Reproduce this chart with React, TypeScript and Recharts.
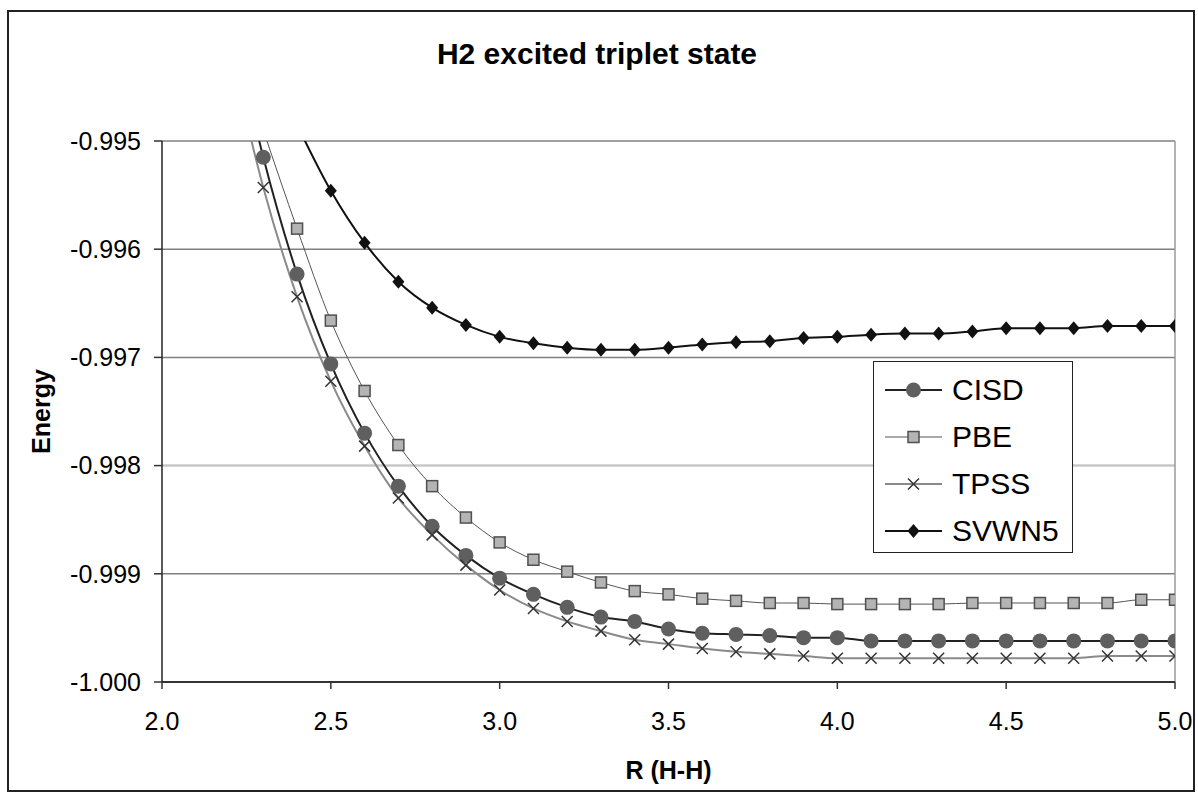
import React from 'react';
import { LineChart, Line, XAxis, YAxis, CartesianGrid, ReferenceLine, Legend } from 'recharts';

const FONT = '"Liberation Sans", Arial, sans-serif';

// R (H-H) sample points
const rValues = [
  2.2, 2.3, 2.4, 2.5, 2.6, 2.7, 2.8, 2.9, 3.0, 3.1, 3.2, 3.3, 3.4, 3.5, 3.6,
  3.7, 3.8, 3.9, 4.0, 4.1, 4.2, 4.3, 4.4, 4.5, 4.6, 4.7, 4.8, 4.9, 5.0,
];

const cisd = [
  -0.9938, -0.99515, -0.99623, -0.99706, -0.9977, -0.99819, -0.99856, -0.99883, -0.99904, -0.99919,
  -0.99931, -0.9994, -0.99944, -0.99951, -0.99955, -0.99956, -0.99957, -0.99959, -0.99959, -0.99962,
  -0.99962, -0.99962, -0.99962, -0.99962, -0.99962, -0.99962, -0.99962, -0.99962, -0.99962,
];

const pbe = [
  null, -0.9949, -0.99581, -0.99666, -0.99731, -0.99781, -0.99819, -0.99848, -0.99871, -0.99887,
  -0.99898, -0.99908, -0.99916, -0.99919, -0.99923, -0.99925, -0.99927, -0.99927, -0.99928, -0.99928,
  -0.99928, -0.99928, -0.99927, -0.99927, -0.99927, -0.99927, -0.99927, -0.99924, -0.99924,
];

const tpss = [
  -0.99413, -0.99543, -0.99644, -0.99722, -0.99782, -0.9983, -0.99864, -0.99892, -0.99915, -0.99932,
  -0.99944, -0.99953, -0.99961, -0.99965, -0.99969, -0.99972, -0.99974, -0.99976, -0.99978, -0.99978,
  -0.99978, -0.99978, -0.99978, -0.99978, -0.99978, -0.99978, -0.99976, -0.99976, -0.99976,
];

const svwn5 = [
  null, null, -0.99485, -0.99546, -0.99594, -0.9963, -0.99654, -0.9967, -0.99681, -0.99687,
  -0.99691, -0.99693, -0.99693, -0.99691, -0.99688, -0.99686, -0.99685, -0.99682, -0.99681, -0.99679,
  -0.99678, -0.99678, -0.99676, -0.99673, -0.99673, -0.99673, -0.99671, -0.99671, -0.99671,
];

const xTicks = [2, 2.5, 3, 3.5, 4, 4.5, 5];
const yTicks = [-1, -0.999, -0.998, -0.997, -0.996, -0.995];

const data = rValues.map((r, i) => ({
  r,
  cisd: cisd[i],
  pbe: pbe[i],
  tpss: tpss[i],
  svwn5: svwn5[i],
}));

const CircleDot = ({ cx, cy }: any) =>
  cx == null || cy == null ? null : <circle cx={cx} cy={cy} r={7.5} fill="#5f5f5f" />;

const SquareDot = ({ cx, cy }: any) =>
  cx == null || cy == null ? null : (
    <rect x={cx - 5.5} y={cy - 5.5} width={11} height={11} fill="#b4b4b4" stroke="#505050" strokeWidth={1.5} />
  );

const CrossDot = ({ cx, cy }: any) =>
  cx == null || cy == null ? null : (
    <path
      d={`M${cx - 5.5},${cy - 5.5}L${cx + 5.5},${cy + 5.5}M${cx + 5.5},${cy - 5.5}L${cx - 5.5},${cy + 5.5}`}
      stroke="#333"
      strokeWidth={1.5}
      fill="none"
    />
  );

const DiamondDot = ({ cx, cy }: any) =>
  cx == null || cy == null ? null : (
    <path d={`M${cx},${cy - 7}L${cx + 6},${cy}L${cx},${cy + 7}L${cx - 6},${cy}Z`} fill="#111" />
  );

const series = [
  { key: 'cisd', name: 'CISD', stroke: '#222', width: 2, Dot: CircleDot },
  { key: 'pbe', name: 'PBE', stroke: '#555', width: 1, Dot: SquareDot },
  { key: 'tpss', name: 'TPSS', stroke: '#8a8a8a', width: 2, Dot: CrossDot },
  { key: 'svwn5', name: 'SVWN5', stroke: '#111', width: 2, Dot: DiamondDot },
];

const renderLegend = () => (
  <div
    style={{
      width: 200,
      height: 192,
      boxSizing: 'border-box',
      border: '1px solid #222',
      background: '#fff',
      paddingTop: 4,
      paddingLeft: 11,
      fontFamily: FONT,
    }}
  >
    {series.map((s) => (
      <div key={s.key} style={{ height: 47, display: 'flex', alignItems: 'center' }}>
        <svg width={58} height={20} style={{ display: 'block' }}>
          <line x1={0} y1={10} x2={57} y2={10} stroke={s.stroke} strokeWidth={s.width} />
          <s.Dot cx={28.5} cy={10} />
        </svg>
        <span style={{ fontSize: 30, marginLeft: 9, color: '#000', lineHeight: '30px' }}>{s.name}</span>
      </div>
    ))}
  </div>
);

const EnergyLabel = ({ viewBox }: any) => {
  const x = viewBox.x + 18;
  const y = viewBox.y + viewBox.height / 2;
  return (
    <text
      x={x}
      y={y}
      transform={`rotate(-90 ${x} ${y})`}
      textAnchor="middle"
      fontFamily={FONT}
      fontWeight="bold"
      fontSize={25}
      fill="#000"
    >
      Energy
    </text>
  );
};

const RLabel = ({ viewBox }: any) => (
  <text
    x={viewBox.x + viewBox.width / 2}
    y={viewBox.y + 97}
    textAnchor="middle"
    fontFamily={FONT}
    fontWeight="bold"
    fontSize={25}
    fill="#000"
  >
    R (H-H)
  </text>
);

export default function App() {
  return (
    <div style={{ position: 'absolute', left: 0, top: 0, width: 1198, height: 795, background: '#fff' }}>
      <div
        style={{
          position: 'absolute',
          left: 7,
          top: 10,
          width: 1188,
          height: 782,
          boxSizing: 'border-box',
          border: '2px solid #222',
        }}
      />
      <div
        style={{
          position: 'absolute',
          left: 0,
          top: 37,
          width: 1194,
          textAlign: 'center',
          fontFamily: FONT,
          fontWeight: 'bold',
          fontSize: 30,
          lineHeight: 'normal',
          color: '#000',
        }}
      >
        H2 excited triplet state
      </div>
      <div style={{ position: 'absolute', left: 0, top: 0 }}>
        <LineChart width={1198} height={795} data={data} margin={{ top: 141, right: 23, bottom: 0, left: 32 }}>
          <CartesianGrid vertical={false} stroke="#808080" strokeWidth={1.5} />
          <ReferenceLine y={-0.998} stroke="#c4c4c4" strokeWidth={1.5} />
          <ReferenceLine x={5} stroke="#9a9a9a" strokeWidth={1.5} />
          <XAxis
            dataKey="r"
            type="number"
            domain={[2, 5]}
            ticks={xTicks}
            allowDataOverflow
            tickFormatter={(v: number) => v.toFixed(1)}
            height={113}
            tickSize={7}
            tickMargin={23}
            axisLine={{ stroke: '#333', strokeWidth: 2 }}
            tickLine={{ stroke: '#333', strokeWidth: 1.5 }}
            tick={{ fontSize: 25, fill: '#000', fontFamily: FONT }}
            label={{ content: RLabel }}
          />
          <YAxis
            type="number"
            domain={[-1, -0.995]}
            ticks={yTicks}
            allowDataOverflow
            tickFormatter={(v: number) => v.toFixed(3)}
            width={130}
            tickSize={8}
            tickMargin={13}
            axisLine={{ stroke: '#222', strokeWidth: 1.5 }}
            tickLine={{ stroke: '#333', strokeWidth: 1.5 }}
            tick={{ fontSize: 25, fill: '#000', fontFamily: FONT }}
            label={{ content: EnergyLabel }}
          />
          <Legend
            layout="vertical"
            align="center"
            verticalAlign="middle"
            content={renderLegend}
            wrapperStyle={{ left: 873, top: 361, width: 200, height: 192 }}
          />
          {series.map((s) => (
            <Line
              key={s.key}
              type="monotone"
              dataKey={s.key}
              name={s.name}
              stroke={s.stroke}
              strokeWidth={s.width}
              dot={(p: any) => <s.Dot key={`${s.key}-${p.index}`} cx={p.cx} cy={p.cy} />}
              activeDot={false}
              isAnimationActive={false}
            />
          ))}
        </LineChart>
      </div>
    </div>
  );
}
